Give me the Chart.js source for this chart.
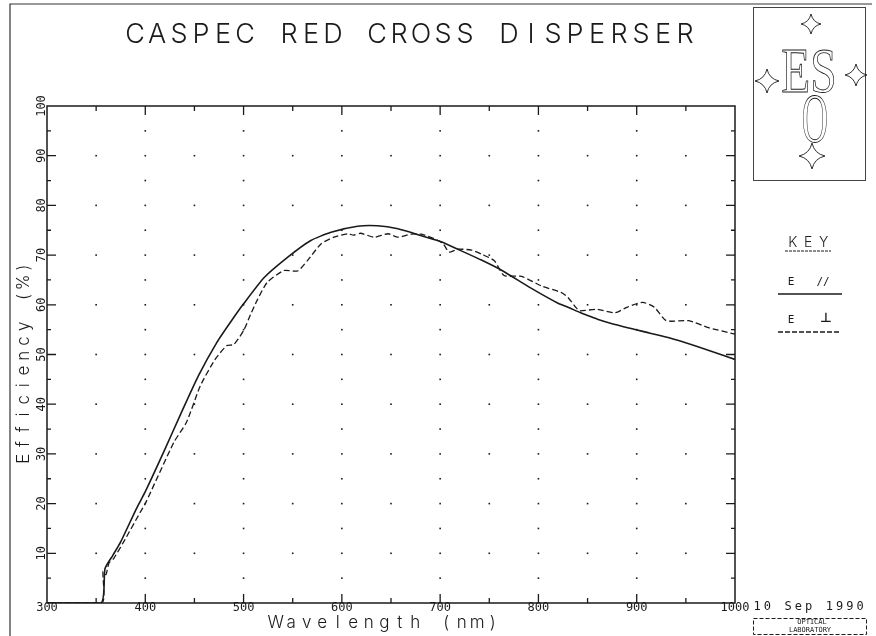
<!DOCTYPE html>
<html>
<head>
<meta charset="utf-8">
<title>CASPEC Red Cross Disperser</title>
<script src="https://cdn.jsdelivr.net/npm/chart.js@4.4.1/dist/chart.umd.min.js"></script>
<style>
  html, body { margin: 0; padding: 0; background: #fff; }
</style>
</head>
<body>
<canvas id="effChart" width="876" height="636"></canvas>
<script>
// E // (solid)
const parWl  = [300, 355, 359, 367, 375, 391, 400, 419, 436, 454, 473, 487, 500, 521, 545, 568, 589, 616, 636, 657, 681, 701, 721, 742, 762, 792, 820, 830, 843, 851, 860, 875, 905, 932, 960, 987, 1000];
const parEff = [0, 0, 6.9, 9.6, 12.3, 19, 22.4, 30.5, 38, 45.7, 52.5, 56.6, 60.2, 65.5, 69.6, 72.9, 74.6, 75.8, 75.9, 75.3, 73.9, 72.7, 70.9, 69, 67, 63.4, 60.3, 59.5, 58.4, 57.8, 57.1, 56.2, 54.7, 53.4, 51.7, 49.9, 49];

// E ⊥ (dashed)
const perpWl  = [300, 356, 357, 360, 363, 368, 378, 395, 400, 429, 442, 456, 471, 483, 490, 500, 507, 514, 524, 541, 555, 565, 579, 592, 606, 612, 619, 633, 647, 657, 670, 681, 694, 703, 709, 718, 732, 742, 755, 765, 783, 803, 823, 830, 838, 842, 860, 878, 890, 906, 918, 930, 953, 973, 1000];
const perpEff = [0, 0, 6.3, 5.7, 8, 9, 12.3, 18.3, 20, 32.3, 36.4, 43.7, 49, 51.8, 52, 54.8, 58, 61, 64.5, 66.9, 66.8, 68.9, 72.3, 73.6, 74.3, 74, 74.4, 73.6, 74.3, 73.6, 74.2, 74.2, 73.3, 72.3, 70.6, 71.2, 71, 70.2, 68.9, 65.9, 65.7, 63.8, 62.5, 61.5, 59.5, 58.8, 59.1, 58.4, 59.5, 60.5, 59.5, 56.8, 56.8, 55.4, 54.1];

const xTicks = [300, 400, 500, 600, 700, 800, 900, 1000];
const yTicks = [10, 20, 30, 40, 50, 60, 70, 80, 90, 100];

const ink = '#1a1a1a';
const mono = '"DejaVu Sans Mono", monospace';
const font = s => '300 ' + s + 'px Inter, "DejaVu Sans", sans-serif';

// draw text one character per fixed cell, plotter style
function spaced(ctx, text, x0, y, pitch) {
    ctx.textAlign = 'center';
    ctx.textBaseline = 'middle';
    [...text].forEach((ch, i) => ctx.fillText(ch, x0 + i * pitch + pitch / 2, y));
}

function star(ctx, cx, cy, r) {
    const k = r * 0.18;
    ctx.beginPath();
    ctx.moveTo(cx, cy - r);
    ctx.quadraticCurveTo(cx + k, cy - k, cx + r, cy);
    ctx.quadraticCurveTo(cx + k, cy + k, cx, cy + r);
    ctx.quadraticCurveTo(cx - k, cy + k, cx - r, cy);
    ctx.quadraticCurveTo(cx - k, cy - k, cx, cy - r);
    ctx.stroke();
}

const framePlugin = {
    id: 'frame',
    beforeDatasetsDraw(chart) {
        const { ctx, chartArea: a, scales: { x, y } } = chart;
        ctx.save();
        ctx.fillStyle = ink;
        // dotted grid
        for (let v = 10; v <= 90; v += 10) {
            for (let w = 350; w <= 950; w += 50) {
                ctx.fillRect(x.getPixelForValue(w) - 0.8, y.getPixelForValue(v) - 0.8, 1.6, 1.6);
            }
        }
        for (let v = 5; v <= 95; v += 10) {
            for (let w = 400; w <= 900; w += 100) {
                ctx.fillRect(x.getPixelForValue(w) - 0.8, y.getPixelForValue(v) - 0.8, 1.6, 1.6);
            }
        }
        // box + inward ticks
        ctx.strokeStyle = ink;
        ctx.lineWidth = 1.5;
        ctx.strokeRect(a.left, a.top, a.right - a.left, a.bottom - a.top);
        ctx.lineWidth = 1.3;
        ctx.beginPath();
        for (let w = 350; w < 1000; w += 50) {
            const px = x.getPixelForValue(w);
            const len = w % 100 === 0 ? 9 : 5;
            ctx.moveTo(px, a.bottom); ctx.lineTo(px, a.bottom - len);
            ctx.moveTo(px, a.top); ctx.lineTo(px, a.top + len);
        }
        for (let v = 5; v < 100; v += 5) {
            const py = y.getPixelForValue(v);
            const len = v % 10 === 0 ? 9 : 4;
            ctx.moveTo(a.left, py); ctx.lineTo(a.left + len, py);
            ctx.moveTo(a.right, py); ctx.lineTo(a.right - len, py);
        }
        ctx.stroke();
        ctx.restore();
    },
    afterDraw(chart) {
        const { ctx, scales: { x, y } } = chart;
        ctx.save();
        ctx.fillStyle = ink;
        ctx.strokeStyle = ink;

        // tick labels
        ctx.font = '12px ' + mono;
        ctx.textAlign = 'center';
        ctx.textBaseline = 'middle';
        xTicks.forEach(t => ctx.fillText(String(t), x.getPixelForValue(t), 608));
        yTicks.forEach(t => {
            ctx.save();
            ctx.translate(42, y.getPixelForValue(t));
            ctx.rotate(-Math.PI / 2);
            ctx.fillText(String(t), 0, 0);
            ctx.restore();
        });

        // title and axis titles
        ctx.font = font(27);
        spaced(ctx, 'CASPEC RED CROSS DISPERSER', 124, 35, 22);
        ctx.font = font(17);
        spaced(ctx, 'Wavelength (nm)', 268, 623, 15.5);
        ctx.save();
        ctx.translate(24, 458);
        ctx.rotate(-Math.PI / 2);
        spaced(ctx, 'Efficiency (%)', -8, 0, 14.7);
        ctx.restore();

        // key
        ctx.font = font(14);
        spaced(ctx, 'KEY', 785, 243, 15.5);
        ctx.lineWidth = 1;
        ctx.setLineDash([3, 1]);
        ctx.beginPath(); ctx.moveTo(785, 251); ctx.lineTo(831, 251); ctx.stroke();
        ctx.setLineDash([]);
        ctx.font = '11px ' + mono;
        ctx.fillText('E', 791, 282);
        ctx.fillText('//', 823, 282);
        ctx.lineWidth = 1.4;
        ctx.beginPath(); ctx.moveTo(778, 294); ctx.lineTo(842, 294); ctx.stroke();
        ctx.fillText('E', 791, 320);
        ctx.font = 'bold 13px "DejaVu Sans", sans-serif';
        ctx.fillText('\u22A5', 826, 319);
        ctx.lineWidth = 1.3;
        ctx.setLineDash([5, 2]);
        ctx.beginPath(); ctx.moveTo(778, 332); ctx.lineTo(841, 332); ctx.stroke();
        ctx.setLineDash([]);

        // ESO logo
        ctx.lineWidth = 1;
        ctx.strokeStyle = '#444';
        ctx.strokeRect(753.5, 7.5, 112, 173);
        ctx.strokeStyle = ink;
        ctx.lineWidth = 0.9;
        star(ctx, 811, 24, 10);
        star(ctx, 767, 81, 12);
        star(ctx, 856, 75, 11);
        star(ctx, 812, 156, 13);
        ctx.textBaseline = 'alphabetic';
        ctx.save();
        ctx.translate(809, 92);
        ctx.scale(0.74, 1);
        ctx.font = '64px "Liberation Serif", serif';
        ctx.strokeText('ES', 0, 0);
        ctx.restore();
        ctx.save();
        ctx.translate(815, 142);
        ctx.scale(0.52, 1);
        ctx.font = '70px "Liberation Serif", serif';
        ctx.strokeText('O', 0, 0);
        ctx.restore();

        // date and lab stamp
        ctx.textBaseline = 'middle';
        ctx.font = '12px ' + mono;
        spaced(ctx, '10 Sep 1990', 752, 607, 10.3);
        ctx.lineWidth = 1;
        ctx.setLineDash([4, 2]);
        ctx.strokeRect(753.5, 618.5, 113, 16);
        ctx.setLineDash([]);
        ctx.font = '7px ' + mono;
        ctx.fillText('OPTICAL', 812, 622);
        ctx.fillText('LABORATORY', 810, 630);

        // sheet border
        ctx.strokeStyle = '#333';
        ctx.lineWidth = 1.2;
        ctx.beginPath();
        ctx.moveTo(10, 636); ctx.lineTo(10, 4); ctx.lineTo(872, 4);
        ctx.stroke();
        ctx.restore();
    }
};

new Chart(document.getElementById('effChart'), {
    type: 'line',
    data: {
        datasets: [
            {
                label: 'E //',
                data: parWl.map((w, i) => ({ x: w, y: parEff[i] })),
                borderColor: ink,
                borderWidth: 1.6,
                pointRadius: 0,
                tension: 0.2,
                fill: false
            },
            {
                label: 'E \u22A5',
                data: perpWl.map((w, i) => ({ x: w, y: perpEff[i] })),
                borderColor: ink,
                borderWidth: 1.3,
                borderDash: [6, 3],
                pointRadius: 0,
                tension: 0.2,
                fill: false
            }
        ]
    },
    options: {
        responsive: false,
        animation: false,
        layout: { padding: { left: 47, right: 141, top: 106, bottom: 33 } },
        plugins: {
            legend: { display: false },
            tooltip: { enabled: false }
        },
        scales: {
            x: { type: 'linear', min: 300, max: 1000, display: false },
            y: { min: 0, max: 100, display: false }
        }
    },
    plugins: [framePlugin]
});
</script>
</body>
</html>
